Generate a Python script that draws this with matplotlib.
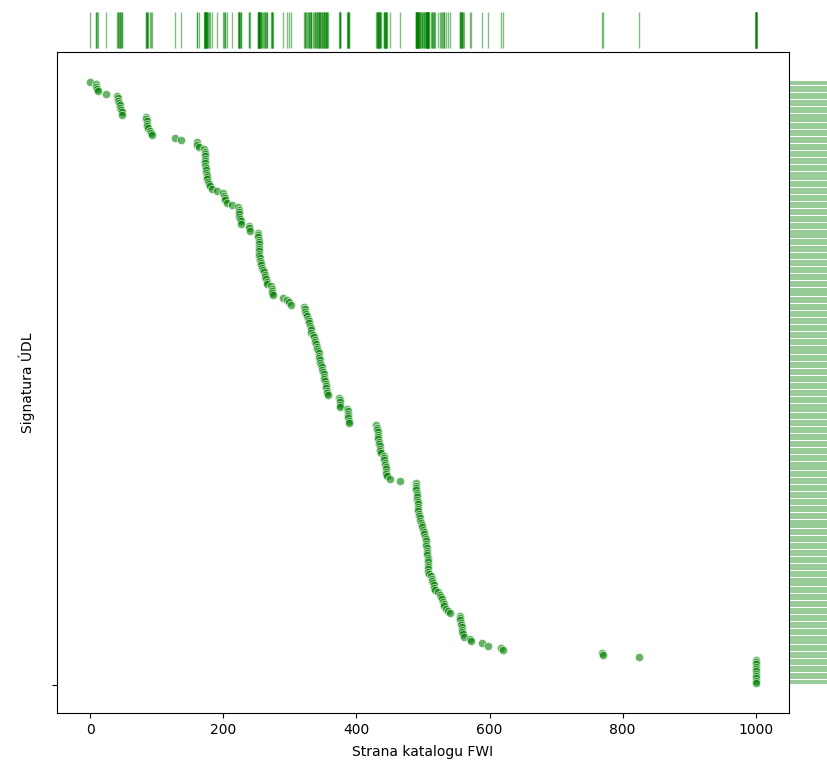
import matplotlib
matplotlib.use("Agg")
import matplotlib.pyplot as plt
import matplotlib.transforms as mtransforms
import numpy as np

# strana katalogu FWI pro každou signaturu (seřazeno shora dolů)
pages = [
    0,
    8, 9, 10, 12,
    24,
    40, 41, 42, 43, 44, 45, 46, 47, 48,
    84, 84, 85, 85, 86, 87, 90, 92, 93,
    128, 136,
    160, 161, 163,
    171, 172, 172, 173, 173, 173, 173, 173, 174, 174, 174, 175, 175, 176, 177, 178, 180, 183,
    190,
    200, 201, 202, 203, 205, 213,
    222, 223, 223, 224, 224, 225, 226, 226,
    238, 239, 240,
    252, 252, 252, 253, 253, 253, 253, 253, 254, 254, 254, 255, 255, 256, 257, 258, 259,
    261, 262, 263, 264, 265, 266,
    272, 273, 273, 273,
    275, 290, 296, 299, 301,
    321, 322, 323, 324, 325, 327, 328, 329, 330, 331, 332, 332,
    334, 336, 337, 338, 339, 340, 341, 342, 343, 343,
    344, 345, 346, 347, 348, 349, 350, 351, 351, 352, 353,
    354, 355, 355, 356, 356, 357,
    374, 375, 375, 376, 376,
    386, 387, 387, 388, 388, 389, 389,
    430, 431, 431, 432, 432, 433, 433, 434, 434, 435, 435, 436, 437,
    441, 442, 442, 443, 443, 444, 444, 445, 445, 446,
    451, 465,
    489, 490, 490, 490, 491, 491, 491, 491, 492, 492, 492, 493, 493, 494, 494,
    495, 496, 497, 498, 499, 500, 501, 502, 503,
    504, 505, 505, 505, 506, 506, 506, 506, 507, 507, 507, 507, 508, 508, 508, 509,
    512, 513, 514, 515, 516, 517, 518,
    523, 525, 527, 529,
    530, 531, 532, 534,
    537, 541,
    555, 556, 556, 557, 557, 558, 558, 559, 560,
    561, 571, 572, 589, 597, 617, 620,
    769, 771,
    824,
    1000, 1000, 1000, 1000, 1000, 1000, 1000, 1000, 1000, 1000, 1000,
]

n = len(pages)
# pořadí signatury -> první nahoře
sig_pos = np.arange(n)[::-1]

fig = plt.figure(figsize=(8.28, 7.61), dpi=100)
ax = fig.add_axes([0.0688, 0.0631, 0.8841, 0.8686])

ax.scatter(pages, sig_pos, s=36, color="green", alpha=0.6,
           edgecolors="white", linewidths=0.75, zorder=3)

# rug nahoře (mimo osy)
trans_x = mtransforms.blended_transform_factory(ax.transData, ax.transAxes)
ax.vlines(pages, 1.006, 1.0605, transform=trans_x, color="green",
          alpha=0.5, linewidth=1, clip_on=False)

# rug vpravo (mimo osy)
trans_y = mtransforms.blended_transform_factory(ax.transAxes, ax.transData)
ax.hlines(sig_pos, 1.0015, 1.06, transform=trans_y, color="green",
          alpha=0.45, linewidth=1.3, clip_on=False)

ax.set_yticks([-1])
ax.set_yticklabels([""])
ax.set_xticks([0, 200, 400, 600, 800, 1000])
ax.set_xlabel("Strana katalogu FWI", labelpad=6)
ax.set_ylabel("Signatura ÚDL", labelpad=9)

fig.savefig("out.png", dpi=100)
